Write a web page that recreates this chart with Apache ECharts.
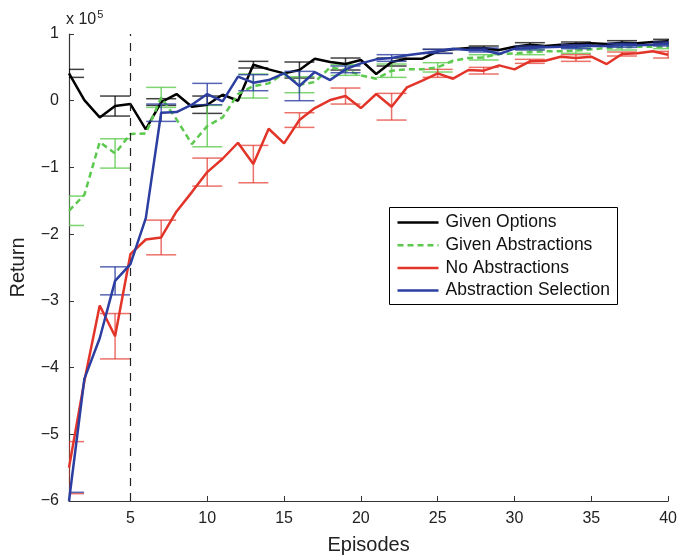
<!DOCTYPE html>
<html>
<head>
<meta charset="utf-8">
<script src="https://cdn.jsdelivr.net/npm/echarts@6/dist/echarts.min.js"></script>
<style>html,body{margin:0;padding:0;background:#fff}#c{width:680px;height:560px}</style>
</head>
<body>
<div id="c"></div>
<script>
// Episodes 1..40
const episodes = [1,2,3,4,5,6,7,8,9,10,11,12,13,14,15,16,17,18,19,20,21,22,23,24,25,26,27,28,29,30,31,32,33,34,35,36,37,38,39,40];
// Return values (x 10^5)
const givenOptions = [0.41,0.01,-0.25,-0.08,-0.05,-0.43,-0.02,0.10,-0.09,-0.06,0.09,0.00,0.54,0.47,0.41,0.46,0.63,0.58,0.55,0.61,0.40,0.58,0.63,0.63,0.74,0.77,0.79,0.79,0.76,0.81,0.84,0.82,0.84,0.85,0.86,0.85,0.87,0.86,0.88,0.89];
const givenAbstractions = [-1.65,-1.41,-0.62,-0.79,-0.50,-0.49,0.05,-0.28,-0.65,-0.38,-0.25,0.10,0.22,0.26,0.41,0.24,0.28,0.50,0.46,0.38,0.33,0.45,0.47,0.47,0.50,0.60,0.64,0.65,0.70,0.71,0.73,0.74,0.74,0.75,0.77,0.79,0.80,0.81,0.81,0.81];
const noAbstractions = [-5.5,-4.2,-3.07,-3.53,-2.30,-2.08,-2.05,-1.66,-1.37,-1.07,-0.87,-0.63,-0.95,-0.42,-0.64,-0.29,-0.11,0.01,0.07,-0.11,0.10,-0.09,0.20,0.30,0.41,0.33,0.46,0.45,0.53,0.47,0.59,0.60,0.66,0.64,0.66,0.55,0.70,0.71,0.74,0.69];
const abstractionSelection = [-6.0,-4.17,-3.56,-2.70,-2.45,-1.76,-0.18,-0.17,-0.06,0.10,-0.01,0.36,0.27,0.31,0.41,0.22,0.43,0.31,0.47,0.56,0.62,0.64,0.68,0.71,0.74,0.78,0.76,0.76,0.70,0.78,0.79,0.80,0.81,0.81,0.82,0.82,0.83,0.83,0.84,0.85];
// Error bar episodes and half-widths
const errEpisodes = [1,4,7,10,13,16,19,22,25,28,31,34,37,40];
const errGivenOptions = [0.06,0.15,0.05,0.13,0.05,0.12,0.09,0.06,0.03,0.03,0.03,0.03,0.03,0.03];
const errGivenAbstractions = [0.22,0.22,0.15,0.31,0.18,0.12,0.08,0.10,0.07,0.04,0.04,0.04,0.04,0.03];
const errNoAbstractions = [0.39,0.34,0.26,0.21,0.28,0.11,0.12,0.20,0.06,0.05,0.03,0.05,0.03,0.05];
const errAbstractionSelection = [0.13,0.21,0.13,0.16,0.12,0.22,0.05,0.05,0.03,0.03,0.03,0.03,0.03,0.03];
// Axis tick values
const xTicks = [5,10,15,20,25,30,35,40];
const switchEpisode = 5;

const FONT = '"Liberation Sans", Arial, sans-serif';
const names = ['Given Options','Given Abstractions','No Abstractions','Abstraction Selection'];
const colors = ['#000000','#5cc94e','#e3342a','#2c3fa0'];
const errColors = ['rgba(0,0,0,0.75)','rgba(92,201,78,0.8)','rgba(227,52,42,0.7)','rgba(44,63,160,0.8)'];
const dashes = ['solid',[6,4],'solid','solid'];
const vals = [givenOptions, givenAbstractions, noAbstractions, abstractionSelection];
const errs = [errGivenOptions, errGivenAbstractions, errNoAbstractions, errAbstractionSelection];

function lineSeries(i){
  return {
    name: names[i], type:'line', z: 3+i,
    data: episodes.map((e,k)=>[e, vals[i][k]]),
    symbol:'none', clip:true,
    lineStyle:{color:colors[i], width:2.5, type: dashes[i]},
    itemStyle:{color:colors[i]},
    animation:false
  };
}
function errSeries(i){
  return {
    name: 'err'+i, type:'custom', z: 2+i, clip:true, animation:false,
    data: errEpisodes.map((e,k)=>[e, vals[i][e-1], errs[i][k]]),
    encode:{x:0,y:1},
    renderItem: function(params, api){
      const x = api.value(0), v = api.value(1), e = api.value(2);
      const t = api.coord([x, v+e]), b = api.coord([x, v-e]);
      const cw = 15;
      const st = {stroke: errColors[i], lineWidth: 1.5};
      return {type:'group', children:[
        {type:'line', shape:{x1:t[0],y1:t[1],x2:b[0],y2:b[1]}, style:st},
        {type:'line', shape:{x1:t[0]-cw,y1:t[1],x2:t[0]+cw,y2:t[1]}, style:st},
        {type:'line', shape:{x1:b[0]-cw,y1:b[1],x2:b[0]+cw,y2:b[1]}, style:st}
      ]};
    }
  };
}

const series = [];
for (let i=0;i<4;i++){ series.push(errSeries(i)); }
for (let i=0;i<4;i++){ series.push(lineSeries(i)); }
series[4].markLine = {
  silent:true, symbol:'none', animation:false,
  label:{show:false},
  lineStyle:{color:'#222', width:1.2, type:[8,7]},
  data:[{xAxis: switchEpisode}]
};

// Legend drawn as graphic elements
const LG = {left:389, top:207, width:228, height:97, rowTop:15, rowStep:22.7};
const legendChildren = [{
  type:'rect', shape:{x:0,y:0,width:LG.width,height:LG.height},
  style:{fill:'#fff', stroke:'#000', lineWidth:1}
}];
names.forEach((n,i)=>{
  const y = LG.rowTop + i*LG.rowStep;
  legendChildren.push({type:'line', shape:{x1:8,y1:y,x2:49,y2:y},
    style:{stroke:colors[i], lineWidth:2.5, lineDash: Array.isArray(dashes[i]) ? dashes[i] : null}});
  legendChildren.push({type:'text', x:56, y:y,
    style:{text:n, fontSize:17.5, fill:'#111', fontFamily:FONT, verticalAlign:'middle', align:'left'}});
});

const chart = echarts.init(document.getElementById('c'), null, {renderer:'canvas'});
chart.setOption({
  backgroundColor:'#fff',
  animation:false,
  textStyle:{fontFamily:FONT},
  grid:{left:69, right:10, top:34, bottom:52, containLabel:false},
  xAxis:{
    type:'value', min:1, max:40,
    name:'Episodes', nameLocation:'middle', nameGap:34,
    nameTextStyle:{fontSize:20, color:'#222', fontFamily:FONT},
    axisLine:{show:true, onZero:false, lineStyle:{color:'#333', width:1.2}},
    axisTick:{show:true, inside:true, length:5, customValues:xTicks, lineStyle:{color:'#333'}},
    axisLabel:{show:true, customValues:xTicks, fontSize:16, color:'#222', margin:10, fontFamily:FONT},
    splitLine:{show:false}
  },
  yAxis:{
    type:'value', min:-6, max:1, interval:1,
    name:'Return', nameLocation:'middle', nameGap:41, nameRotate:90,
    nameTextStyle:{fontSize:20, color:'#222', fontFamily:FONT},
    axisLine:{show:true, onZero:false, lineStyle:{color:'#333', width:1.2}},
    axisTick:{show:true, inside:true, length:5, lineStyle:{color:'#333'}},
    axisLabel:{fontSize:16, color:'#222', margin:10, fontFamily:FONT,
      formatter: v => v < 0 ? '\u2212' + (-v) : String(v)},
    splitLine:{show:false}
  },
  graphic:[{
    type:'text', left:66, top:9,
    style:{
      text:'{a|x 10}{b|5}',
      rich:{
        a:{fontSize:16, fill:'#222', fontFamily:FONT, verticalAlign:'bottom'},
        b:{fontSize:11, fill:'#222', fontFamily:FONT, verticalAlign:'top', padding:[0,0,8,1]}
      }
    }
  },{
    type:'group', left:LG.left, top:LG.top, z:100, children:legendChildren
  }],
  series: series
});
</script>
</body>
</html>
